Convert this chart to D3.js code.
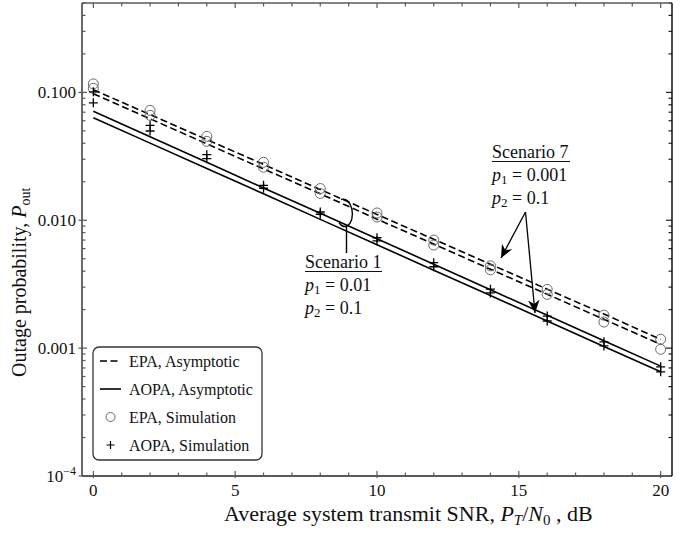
<!DOCTYPE html>
<html>
<head>
<meta charset="utf-8">
<script src="https://cdn.jsdelivr.net/npm/d3@7/dist/d3.min.js"></script>
<style>
  html, body { margin: 0; padding: 0; background: #fff; }
  svg { display: block; font-family: "Liberation Serif", "Times New Roman", serif; }
</style>
</head>
<body>
<svg id="chart" width="694" height="533"></svg>
<script>
// Average system transmit SNR (dB) at which everything is evaluated
const snrDb = [0, 2, 4, 6, 8, 10, 12, 14, 16, 18, 20];

// Asymptotic outage probability (straight lines on the log axis)
const epaAsymScen7  = [0.105, 0.0670, 0.0428, 0.0273, 0.0174, 0.0111, 0.00710, 0.00453, 0.00289, 0.00185, 0.00117];
const epaAsymScen1  = [0.0977, 0.0622, 0.0396, 0.0252, 0.0161, 0.0102, 0.00652, 0.00414, 0.00264, 0.00168, 0.00107];
const aopaAsymScen7 = [0.0711, 0.0450, 0.0284, 0.0179, 0.01135, 0.00717, 0.00453, 0.00286, 0.00181, 0.00114, 0.000723];
const aopaAsymScen1 = [0.0634, 0.0401, 0.0254, 0.0161, 0.01016, 0.00643, 0.00407, 0.00258, 0.00163, 0.00103, 0.000653];

// Monte-Carlo outage probability
const epaSimScen7  = [0.1165, 0.0723, 0.0453, 0.0284, 0.0177, 0.0114, 0.0070, 0.0044, 0.00288, 0.00181, 0.001175];
const epaSimScen1  = [0.1075, 0.0661, 0.0414, 0.0260, 0.0162, 0.0106, 0.0064, 0.0041, 0.00263, 0.00160, 0.00098];
const aopaSimScen7 = [0.101, 0.0552, 0.0326, 0.01874, 0.0116, 0.0073, 0.00466, 0.00289, 0.00178, 0.00112, 0.000714];
const aopaSimScen1 = [0.0828, 0.0499, 0.0303, 0.0178, 0.01114, 0.00691, 0.00433, 0.00270, 0.00163, 0.00104, 0.000653];

// Axis ticks
const xMajorTicks = [0, 5, 10, 15, 20];
const xMinorTicks = d3.range(0, 21, 1).filter(v => v % 5 !== 0);
const yMajorTicks = [0.1, 0.01, 0.001, 0.0001];
const yTickLabels = ["0.100", "0.010", "0.001", "10^-4"];

const legendLabels = ["EPA, Asymptotic", "AOPA, Asymptotic", "EPA, Simulation", "AOPA, Simulation"];

const svg = d3.select("#chart");
const L = 82, R = 672, T = 3, B = 476;

const x = d3.scaleLinear().domain([-0.4, 20.4]).range([L, R]);
const y = d3.scaleLog().domain([1e-4, 0.5]).range([B, T]);

const yMinorTicks = [];
for (let e = -4; e < 0; e++) {
  for (let m = 2; m <= 9; m++) {
    const v = m * Math.pow(10, e);
    if (v <= 0.5) yMinorTicks.push(v);
  }
}

const axisGrey = "#5a5a5a";

// Ticks (drawn before the frame)
const ticks = svg.append("g").attr("stroke-width", 1.2);
// left
ticks.selectAll(".yl").data(yMajorTicks).join("line")
  .attr("x1", L - 3.5).attr("x2", L + 5).attr("y1", d => y(d)).attr("y2", d => y(d)).attr("stroke", axisGrey);
ticks.selectAll(".ylm").data(yMinorTicks).join("line")
  .attr("x1", L).attr("x2", L + 3.5).attr("y1", d => y(d)).attr("y2", d => y(d)).attr("stroke", axisGrey);
// right
ticks.selectAll(".yr").data(yMajorTicks).join("line")
  .attr("x1", R - 6).attr("x2", R).attr("y1", d => y(d)).attr("y2", d => y(d)).attr("stroke", "#222");
ticks.selectAll(".yrm").data(yMinorTicks).join("line")
  .attr("x1", R - 3.5).attr("x2", R).attr("y1", d => y(d)).attr("y2", d => y(d)).attr("stroke", "#222");
// bottom
ticks.selectAll(".xb").data(xMajorTicks).join("line")
  .attr("x1", d => x(d)).attr("x2", d => x(d)).attr("y1", B + 2).attr("y2", B - 5).attr("stroke", axisGrey);
ticks.selectAll(".xbm").data(xMinorTicks).join("line")
  .attr("x1", d => x(d)).attr("x2", d => x(d)).attr("y1", B).attr("y2", B - 3.5).attr("stroke", axisGrey);
// top
ticks.selectAll(".xt").data(xMajorTicks).join("line")
  .attr("x1", d => x(d)).attr("x2", d => x(d)).attr("y1", T).attr("y2", T + 5).attr("stroke", axisGrey);
ticks.selectAll(".xtm").data(xMinorTicks).join("line")
  .attr("x1", d => x(d)).attr("x2", d => x(d)).attr("y1", T).attr("y2", T + 3.5).attr("stroke", axisGrey);

// Frame
svg.append("line").attr("x1", L).attr("x2", L).attr("y1", T).attr("y2", B).attr("stroke", axisGrey).attr("stroke-width", 1.8);
svg.append("line").attr("x1", L).attr("x2", R).attr("y1", B).attr("y2", B).attr("stroke", axisGrey).attr("stroke-width", 1.8);
svg.append("line").attr("x1", L).attr("x2", R).attr("y1", T).attr("y2", T).attr("stroke", axisGrey).attr("stroke-width", 1.5);
svg.append("line").attr("x1", R).attr("x2", R).attr("y1", T).attr("y2", B).attr("stroke", "#111").attr("stroke-width", 1.5);

// Tick labels
const tickFont = 17;
svg.append("g").selectAll("text").data(yMajorTicks).join("text")
  .attr("x", L - 6).attr("y", d => y(d) + 6)
  .attr("text-anchor", "end").attr("font-size", tickFont).attr("fill", "#111")
  .each(function(d, i) {
    const lab = yTickLabels[i];
    const t = d3.select(this);
    if (lab.includes("^")) {
      const [base, exp] = lab.split("^");
      t.append("tspan").text(base);
      t.append("tspan").attr("dy", -7).attr("font-size", 12).text(exp.replace("-", "\u2212"));
    } else {
      t.text(lab);
    }
  });

svg.append("g").selectAll("text").data(xMajorTicks).join("text")
  .attr("x", d => x(d)).attr("y", B + 20)
  .attr("text-anchor", "middle").attr("font-size", tickFont).attr("fill", "#111")
  .text(d => d);

// Axis titles
const xt = svg.append("text").attr("x", 224).attr("y", 521).attr("font-size", 22).attr("fill", "#111");
xt.append("tspan").text("Average system transmit SNR, ");
xt.append("tspan").attr("font-style", "italic").text("P");
xt.append("tspan").attr("font-style", "italic").attr("font-size", 15).attr("dy", 4).text("T");
xt.append("tspan").attr("dy", -4).text("/");
xt.append("tspan").attr("font-style", "italic").text("N");
xt.append("tspan").attr("font-size", 15).attr("dy", 4).text("0");
xt.append("tspan").attr("dy", -4).text(" , dB");

const yt = svg.append("text").attr("transform", "translate(26,377) rotate(-90)")
  .attr("font-size", 20).attr("fill", "#111");
yt.append("tspan").text("Outage probability, ");
yt.append("tspan").attr("font-style", "italic").text("P");
yt.append("tspan").attr("font-size", 14).attr("dy", 4).text("out");

// Asymptotic lines
const line = d3.line().x((d, i) => x(snrDb[i])).y(d => y(d));
const asym = [
  { v: epaAsymScen7, dash: "7,3.5" },
  { v: epaAsymScen1, dash: "7,3.5" },
  { v: aopaAsymScen7, dash: null },
  { v: aopaAsymScen1, dash: null }
];
svg.append("g").selectAll("path").data(asym).join("path")
  .attr("d", d => line(d.v)).attr("fill", "none").attr("stroke", "#000")
  .attr("stroke-width", 1.6).attr("stroke-dasharray", d => d.dash);

// Simulation markers
function circles(vals) {
  svg.append("g").selectAll("circle").data(vals).join("circle")
    .attr("cx", (d, i) => x(snrDb[i])).attr("cy", d => y(d)).attr("r", 5)
    .attr("fill", "none").attr("stroke", "#6a6a6a").attr("stroke-width", 1);
}
function pluses(vals) {
  svg.append("g").selectAll("path").data(vals).join("path")
    .attr("d", (d, i) => {
      const cx = x(snrDb[i]), cy = y(d), s = 4.5;
      return `M${cx - s},${cy}H${cx + s}M${cx},${cy - s}V${cy + s}`;
    })
    .attr("stroke", "#000").attr("stroke-width", 1.3).attr("fill", "none");
}
circles(epaSimScen7);
circles(epaSimScen1);
pluses(aopaSimScen7);
pluses(aopaSimScen1);

// Legend
const lg = svg.append("g");
lg.append("rect").attr("x", 93).attr("y", 347).attr("width", 169).attr("height", 113)
  .attr("rx", 6).attr("fill", "#fff").attr("stroke", "#333").attr("stroke-width", 1.3);
const rowY = [361, 389, 417, 445];
legendLabels.forEach((lab, i) => {
  const yy = rowY[i];
  if (i === 0) lg.append("line").attr("x1", 100).attr("x2", 121).attr("y1", yy).attr("y2", yy)
    .attr("stroke", "#000").attr("stroke-width", 1.6).attr("stroke-dasharray", "7,3.5");
  if (i === 1) lg.append("line").attr("x1", 100).attr("x2", 121).attr("y1", yy).attr("y2", yy)
    .attr("stroke", "#000").attr("stroke-width", 1.6);
  if (i === 2) lg.append("circle").attr("cx", 110.5).attr("cy", yy).attr("r", 4.5)
    .attr("fill", "none").attr("stroke", "#6a6a6a").attr("stroke-width", 1);
  if (i === 3) lg.append("path").attr("d", `M106.5,${yy}H114.5M110.5,${yy - 4}V${yy + 4}`)
    .attr("stroke", "#000").attr("stroke-width", 1.2);
  lg.append("text").attr("x", 129).attr("y", yy + 5.5).attr("font-size", 16).attr("fill", "#111").text(lab);
});

// Scenario annotations
function scenarioBlock(x0, yBase, title, p1, p2, underlineW) {
  const g = svg.append("g").attr("font-size", 18).attr("fill", "#111");
  g.append("text").attr("x", x0).attr("y", yBase).text(title);
  g.append("line").attr("x1", x0).attr("x2", x0 + underlineW).attr("y1", yBase + 3.5).attr("y2", yBase + 3.5)
    .attr("stroke", "#111").attr("stroke-width", 1.1);
  [[p1, 1], [p2, 2]].forEach(([val, k], j) => {
    const t = g.append("text").attr("x", x0).attr("y", yBase + 23 * (j + 1));
    t.append("tspan").attr("font-style", "italic").text("p");
    t.append("tspan").attr("font-size", 13).attr("dy", 3).text(k);
    t.append("tspan").attr("dy", -3).text(" = " + val);
  });
}
scenarioBlock(492, 158, "Scenario 7", "0.001", "0.1", 78);
scenarioBlock(305, 268, "Scenario 1", "0.01", "0.1", 77);

// Arrows for Scenario 7
svg.append("defs").append("marker").attr("id", "head")
  .attr("viewBox", "0 0 10 10").attr("refX", 10).attr("refY", 5)
  .attr("markerWidth", 13).attr("markerHeight", 13).attr("markerUnits", "userSpaceOnUse")
  .attr("orient", "auto")
  .append("path").attr("d", "M0,0.5 L10,5 L0,9.5 L3,5 Z").attr("fill", "#000");
const ax0 = 525.5, ay0 = 212;
svg.append("line").attr("x1", ax0).attr("y1", ay0).attr("x2", 501).attr("y2", 258)
  .attr("stroke", "#000").attr("stroke-width", 1.3).attr("marker-end", "url(#head)");
svg.append("line").attr("x1", ax0).attr("y1", ay0).attr("x2", 535).attr("y2", 313)
  .attr("stroke", "#000").attr("stroke-width", 1.3).attr("marker-end", "url(#head)");

// Bracket for Scenario 1
svg.append("path")
  .attr("d", "M341,199.5 C352,196 357,220 347,226 C344,227.5 341,225.5 339,222.5")
  .attr("fill", "none").attr("stroke", "#000").attr("stroke-width", 1.4);
svg.append("line").attr("x1", 346.5).attr("x2", 346.5).attr("y1", 226).attr("y2", 253)
  .attr("stroke", "#000").attr("stroke-width", 1.4);
</script>
</body>
</html>
